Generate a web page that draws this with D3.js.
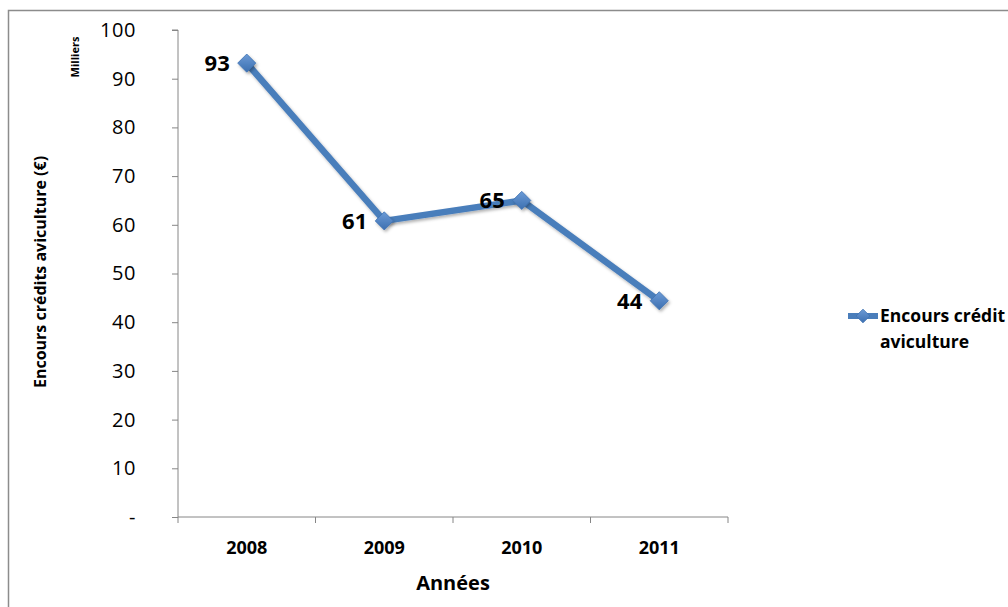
<!DOCTYPE html>
<html><head><meta charset="utf-8">
<script src="https://cdn.jsdelivr.net/npm/d3@7"></script>
<style>body{margin:0;background:#fff}svg{display:block}text{font-family:"Open Sans",Lato,sans-serif}</style>
</head><body>
<svg id="c" width="1008" height="607"></svg>
<script>
const years = ["2008","2009","2010","2011"];
const values = [93.2, 60.8, 65.0, 44.4];
const dataLabels = ["93","61","65","44"];
const yTicks = [0,10,20,30,40,50,60,70,80,90,100];
const seriesName = ["Encours crédit", "aviculture"];

(function(){
const svg = d3.select("#c");
const pL = 178, pR = 728, pT = 30, pB = 517;
const x = d3.scaleBand().domain(years).range([pL, pR]);
const y = d3.scaleLinear().domain([0,100]).range([pB, pT]);
const blue = "#4a7ebb", axisCol = "#868686";

// chart border
svg.append("rect").attr("x",8.5).attr("y",10.5).attr("width",1010).attr("height",610)
  .attr("fill","none").attr("stroke","#8c8c8c").attr("stroke-width",1.5);

// y axis
const ya = svg.append("g").attr("transform",`translate(${pL},0)`)
  .call(d3.axisLeft(y).tickValues(yTicks).tickSize(6).tickPadding(36)
    .tickFormat(d => d === 0 ? "-" : d3.format("d")(d)));
ya.select(".domain").attr("stroke",axisCol).attr("d",`M-6,${pT}H0V${pB}`);
ya.selectAll(".tick line").attr("stroke",axisCol);
ya.selectAll(".tick text").attr("fill","#000").attr("font-size",20).attr("letter-spacing",0.6)
  .attr("font-family","'Open Sans',sans-serif");

// x axis
const xa = svg.append("g").attr("transform",`translate(0,${pB})`)
  .call(d3.axisBottom(x).tickSize(0).tickPadding(24));
xa.select(".domain").attr("stroke",axisCol).attr("d",`M${pL},0H${pR}`);
xa.selectAll(".tick text").attr("fill","#000").attr("font-size",18).attr("font-weight","bold");
const bounds = years.map(d => x(d)).concat([pR]);
xa.selectAll(".bt").data(bounds).join("line").attr("class","bt")
  .attr("x1",d=>d).attr("x2",d=>d).attr("y1",0).attr("y2",6).attr("stroke",axisCol);

// titles
svg.append("text").attr("x",453).attr("y",590).attr("text-anchor","middle")
  .attr("font-size",20).attr("font-weight","bold").text("Années");
svg.append("text").attr("transform","translate(46,272) rotate(-90)").attr("text-anchor","middle")
  .attr("font-size",16).attr("font-weight","bold").text("Encours crédits aviculture (€)");
svg.append("text").attr("transform","translate(79,57) rotate(-90)").attr("text-anchor","middle")
  .attr("font-size",11).attr("font-weight","bold").text("Milliers");

// defs
const defs = svg.append("defs");
const g = defs.append("linearGradient").attr("id","dg").attr("x1","0").attr("y1","0").attr("x2","0").attr("y2","1");
g.append("stop").attr("offset","0").attr("stop-color","#6c9bd6");
g.append("stop").attr("offset","1").attr("stop-color","#3c6fb0");
const f = defs.append("filter").attr("id","sh").attr("x","-20%").attr("y","-20%").attr("width","150%").attr("height","150%");
f.append("feDropShadow").attr("dx",1.5).attr("dy",2).attr("stdDeviation",1.5).attr("flood-color","#000").attr("flood-opacity",0.3);

const cx = d => x(d) + x.bandwidth()/2;
const pts = years.map((d,i) => [cx(d), y(values[i])]);
svg.append("path").attr("d", d3.line()(pts)).attr("fill","none").attr("stroke",blue)
  .attr("stroke-width",6.5).attr("stroke-linejoin","round").attr("filter","url(#sh)");
const diamond = d3.symbol().type(d3.symbolDiamond2).size(210);
svg.selectAll(".m").data(pts).join("path").attr("class","m")
  .attr("transform",d=>`translate(${d[0]},${d[1]})`).attr("d",diamond)
  .attr("fill","url(#dg)").attr("stroke","#3f72b3").attr("stroke-width",0.8).attr("filter","url(#sh)");

// data labels
svg.selectAll(".dl").data(pts).join("text").attr("class","dl")
  .attr("x",d=>d[0]-17).attr("y",d=>d[1]+8).attr("text-anchor","end")
  .attr("font-size",22).attr("font-weight","bold").text((d,i)=>dataLabels[i]);

// legend
const lg = svg.append("g");
lg.append("line").attr("x1",848).attr("x2",878).attr("y1",316).attr("y2",316)
  .attr("stroke",blue).attr("stroke-width",6);
lg.append("path").attr("transform","translate(863,316)").attr("d",d3.symbol().type(d3.symbolDiamond2).size(120))
  .attr("fill","url(#dg)").attr("stroke","#3f72b3").attr("stroke-width",0.8);
lg.selectAll("text").data(seriesName).join("text").attr("x",880).attr("y",(d,i)=>322+i*26)
  .attr("font-size",17.5).attr("font-weight","bold").text(d=>d);
})();
</script>
</body></html>
